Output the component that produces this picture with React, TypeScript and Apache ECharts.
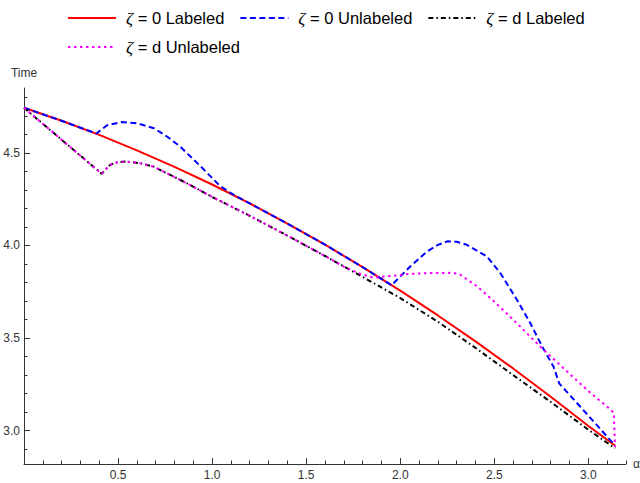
import React, { useEffect, useRef } from "react";
import * as echarts from "echarts";

const seriesNames = ["ζ = 0 Labeled", "ζ = 0 Unlabeled", "ζ = d Labeled", "ζ = d Unlabeled"];
const seriesColors = ["#ff0000", "#0000ff", "#000000", "#ff00ff"];

const zeroLabeledX = [0, 0.2, 0.4, 0.6, 0.8, 1.0, 1.2, 1.4, 1.6, 1.8, 2.0, 2.2, 2.4, 2.6, 2.8, 3.0, 3.1416];
const zeroLabeledY = [4.743, 4.673, 4.597, 4.513, 4.424, 4.329, 4.227, 4.118, 4.004, 3.883, 3.756, 3.622, 3.482, 3.336, 3.183, 3.025, 2.92];

const zeroUnlabeledX = [0, 0.2, 0.385, 0.44, 0.52, 0.6, 0.69, 0.76, 0.83, 0.94, 1.04, 1.1, 1.2, 1.4, 1.6, 1.8, 1.954, 2.053, 2.142, 2.2, 2.25, 2.3, 2.355, 2.461, 2.532, 2.62, 2.69, 2.755, 2.815, 2.845, 3.0, 3.1416];
const zeroUnlabeledY = [4.743, 4.673, 4.604, 4.648, 4.666, 4.66, 4.633, 4.588, 4.534, 4.426, 4.323, 4.282, 4.227, 4.118, 4.004, 3.883, 3.785, 3.886, 3.967, 4.003, 4.022, 4.02, 4.003, 3.94, 3.851, 3.707, 3.583, 3.453, 3.345, 3.255, 3.081, 2.92];

const dLabeledX = [0, 0.413, 0.457, 0.5, 0.546, 0.617, 0.688, 0.865, 1.0, 1.2, 1.4, 1.6, 1.8, 2.0, 2.2, 2.4, 2.6, 2.8, 3.0, 3.1416];
const dLabeledY = [4.743, 4.387, 4.435, 4.45, 4.453, 4.444, 4.426, 4.336, 4.262, 4.16, 4.053, 3.943, 3.83, 3.716, 3.588, 3.447, 3.3, 3.155, 3.005, 2.905];

const dUnlabeledX = [0, 0.413, 0.457, 0.5, 0.546, 0.617, 0.688, 0.865, 1.0, 1.2, 1.4, 1.6, 1.7, 1.787, 1.856, 1.96, 2.05, 2.16, 2.28, 2.32, 2.41, 2.495, 2.6, 2.745, 2.888, 3.01, 3.106, 3.135, 3.1416];
const dUnlabeledY = [4.743, 4.387, 4.435, 4.45, 4.453, 4.444, 4.426, 4.336, 4.262, 4.16, 4.053, 3.943, 3.885, 3.847, 3.826, 3.836, 3.846, 3.851, 3.852, 3.842, 3.778, 3.701, 3.6, 3.453, 3.318, 3.205, 3.124, 3.095, 2.91];

const xMajorTicks = [0.5, 1.0, 1.5, 2.0, 2.5, 3.0];
const xMinorTicks = [0.1, 0.2, 0.3, 0.4, 0.6, 0.7, 0.8, 0.9, 1.1, 1.2, 1.3, 1.4, 1.6, 1.7, 1.8, 1.9, 2.1, 2.2, 2.3, 2.4, 2.6, 2.7, 2.8, 2.9, 3.1, 3.2];
const yMajorTicks = [3.0, 3.5, 4.0, 4.5];
const yMinorTicks = [2.9, 3.1, 3.2, 3.3, 3.4, 3.6, 3.7, 3.8, 3.9, 4.1, 4.2, 4.3, 4.4, 4.6, 4.7, 4.8];

const legendRows = [seriesNames.slice(0, 3), seriesNames.slice(3)];

const xData = [zeroLabeledX, zeroUnlabeledX, dLabeledX, dUnlabeledX];
const yData = [zeroLabeledY, zeroUnlabeledY, dLabeledY, dUnlabeledY];
const dashTypes: any[] = ["solid", [6, 3.5], [5, 3, 1.5, 3], [2.5, 3.5]];

const FONT = "'Liberation Sans', Arial, sans-serif";
const AXIS_COLOR = "#333";

export default function App() {
  const ref = useRef<HTMLDivElement>(null);
  useEffect(() => {
    if (!ref.current) return;
    const chart = echarts.init(ref.current, null, { renderer: "svg" });
    const xMin = 0;
    const xMax = 3.2;
    const yMin = 2.82;
    const yMax = 4.85;
    const series = seriesNames.map((name, i) => ({
      name,
      type: "line",
      xAxisIndex: 0,
      yAxisIndex: 0,
      data: xData[i].map((x, j) => [x, yData[i][j]]),
      showSymbol: false,
      symbol: "none",
      lineStyle: { color: seriesColors[i], width: 2, type: dashTypes[i] },
      itemStyle: { color: seriesColors[i] },
      emphasis: { disabled: true },
    }));
    const legendBase = {
      left: 62,
      itemWidth: 48,
      itemHeight: 14,
      itemGap: 15,
      itemStyle: { opacity: 0 },
      textStyle: {
        fontSize: 16.5,
        color: "#000",
        fontFamily: FONT,
        padding: [0, 0, 0, 5],
        rich: {
          i: { fontStyle: "italic", fontSize: 17.5, fontFamily: "'Liberation Serif', serif", color: "#000" },
        },
      },
      formatter: (n: string) => n.replace("ζ", "{i|ζ}"),
    };
    chart.setOption({
      animation: false,
      grid: { left: 24, right: 14, top: 88, bottom: 19, containLabel: false, outerBoundsMode: "none" },
      legend: [
        { ...legendBase, data: legendRows[0], top: 4 },
        { ...legendBase, data: legendRows[1], top: 33 },
      ],
      xAxis: [
        {
          type: "value",
          min: xMin,
          max: xMax,
          position: "bottom",
          name: "α",
          nameLocation: "end",
          nameGap: 7,
          nameTextStyle: { fontSize: 12, color: "#333", fontFamily: FONT },
          axisLine: { show: true, onZero: false, lineStyle: { color: AXIS_COLOR, width: 1 } },
          axisTick: { show: true, inside: true, length: 6, customValues: xMajorTicks, lineStyle: { color: AXIS_COLOR } },
          axisLabel: { show: true, customValues: xMajorTicks, fontSize: 12, color: "#333", fontFamily: FONT, margin: 5, formatter: (v: number) => v.toFixed(1) },
          splitLine: { show: false },
        },
        {
          type: "value",
          min: xMin,
          max: xMax,
          position: "bottom",
          axisLine: { show: false, onZero: false },
          axisTick: { show: true, inside: true, length: 3.5, customValues: xMinorTicks, lineStyle: { color: AXIS_COLOR } },
          axisLabel: { show: false },
          splitLine: { show: false },
        },
      ],
      yAxis: [
        {
          type: "value",
          min: yMin,
          max: yMax,
          position: "left",
          name: "Time",
          nameLocation: "end",
          nameGap: 9,
          nameTextStyle: { fontSize: 12, color: "#333", fontFamily: FONT },
          axisLine: { show: true, onZero: false, lineStyle: { color: AXIS_COLOR, width: 1 } },
          axisTick: { show: true, inside: true, length: 6, customValues: yMajorTicks, lineStyle: { color: AXIS_COLOR } },
          axisLabel: { show: true, customValues: yMajorTicks, fontSize: 12, color: "#333", fontFamily: FONT, margin: 4, formatter: (v: number) => v.toFixed(1) },
          splitLine: { show: false },
        },
        {
          type: "value",
          min: yMin,
          max: yMax,
          position: "left",
          axisLine: { show: false, onZero: false },
          axisTick: { show: true, inside: true, length: 3.5, customValues: yMinorTicks, lineStyle: { color: AXIS_COLOR } },
          axisLabel: { show: false },
          splitLine: { show: false },
        },
      ],
      series,
    });
    return () => chart.dispose();
  }, []);
  return <div ref={ref} style={{ position: "absolute", left: 0, top: 0, width: 640, height: 483 }} />;
}
